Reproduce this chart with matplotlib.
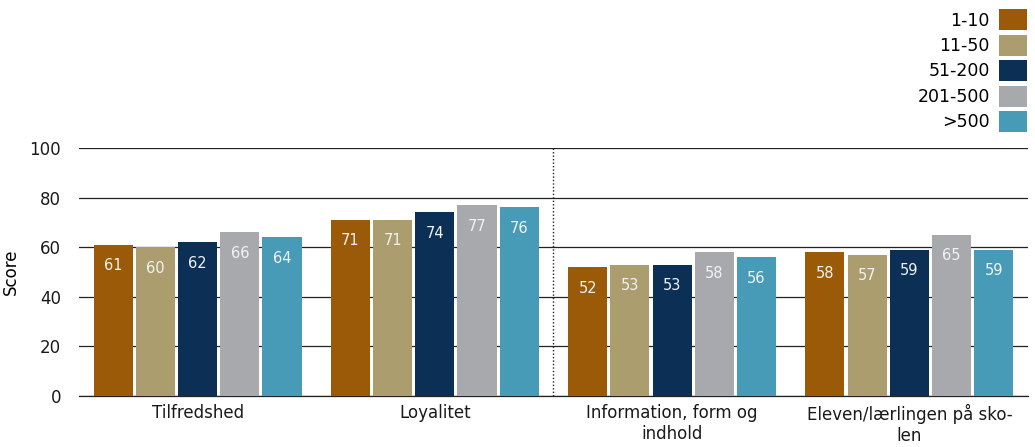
import matplotlib.pyplot as plt
import numpy as np
from matplotlib.patches import Patch

categories = ["Tilfredshed", "Loyalitet", "Information, form og\nindhold",
              "Eleven/lærlingen på sko-\nlen"]
groups = ["1-10", "11-50", "51-200", "201-500", ">500"]
scores = [
    [61, 71, 52, 58],   # 1-10
    [60, 71, 53, 57],   # 11-50
    [62, 74, 53, 59],   # 51-200
    [66, 77, 58, 65],   # 201-500
    [64, 76, 56, 59],   # >500
]
colors = ["#9A5A07", "#AB9D6E", "#0C2F55", "#A8A9AD", "#489BB7"]

fig = plt.figure(figsize=(10.35, 4.47), dpi=100)
ax = fig.add_axes([0.0763, 0.1141, 0.9169, 0.5549])

x = np.arange(len(categories))
step, width = 0.178, 0.165
for i, (grp, vals, col) in enumerate(zip(groups, scores, colors)):
    pos = x + (i - 2) * step
    ax.bar(pos, vals, width=width, color=col, zorder=3)
    for p, v in zip(pos, vals):
        ax.text(p, v - 8.5, f"{v}", ha="center", va="center",
                color="#F2F2F2", fontsize=10.5, zorder=4)

ax.set_xlim(-0.5, len(categories) - 0.5)
ax.set_ylim(0, 100)
ax.set_yticks(range(0, 101, 20))
ax.yaxis.grid(True, color="#222222", linewidth=0.9)
ax.axhline(0, color="#222222", linewidth=0.9, clip_on=False, zorder=2)
ax.set_axisbelow(True)
for s in ax.spines.values():
    s.set_visible(False)
ax.tick_params(axis="both", length=0, labelsize=12, colors="#1a1a1a")
ax.tick_params(axis="x", pad=6)
ax.tick_params(axis="y", pad=13)
ax.set_xticks(x)
ax.set_xticklabels(categories)
ax.set_ylabel("Score", fontsize=12)
ax.yaxis.set_label_coords(-0.062, 0.5)

# split between the two question blocks
ax.axvline(1.5, color="#222222", linestyle=(0, (1, 1.5)), linewidth=1, zorder=2)

handles = [Patch(facecolor=c, label=g) for g, c in zip(groups, colors)]
fig.legend(handles=handles, loc="upper right", bbox_to_anchor=(1.004, 1.006),
           frameon=False, markerfirst=False, fontsize=12.5,
           handlelength=1.6, handleheight=1.45, labelspacing=0.28,
           handletextpad=0.55, borderaxespad=0.3)

fig.savefig("out.png", dpi=100)
